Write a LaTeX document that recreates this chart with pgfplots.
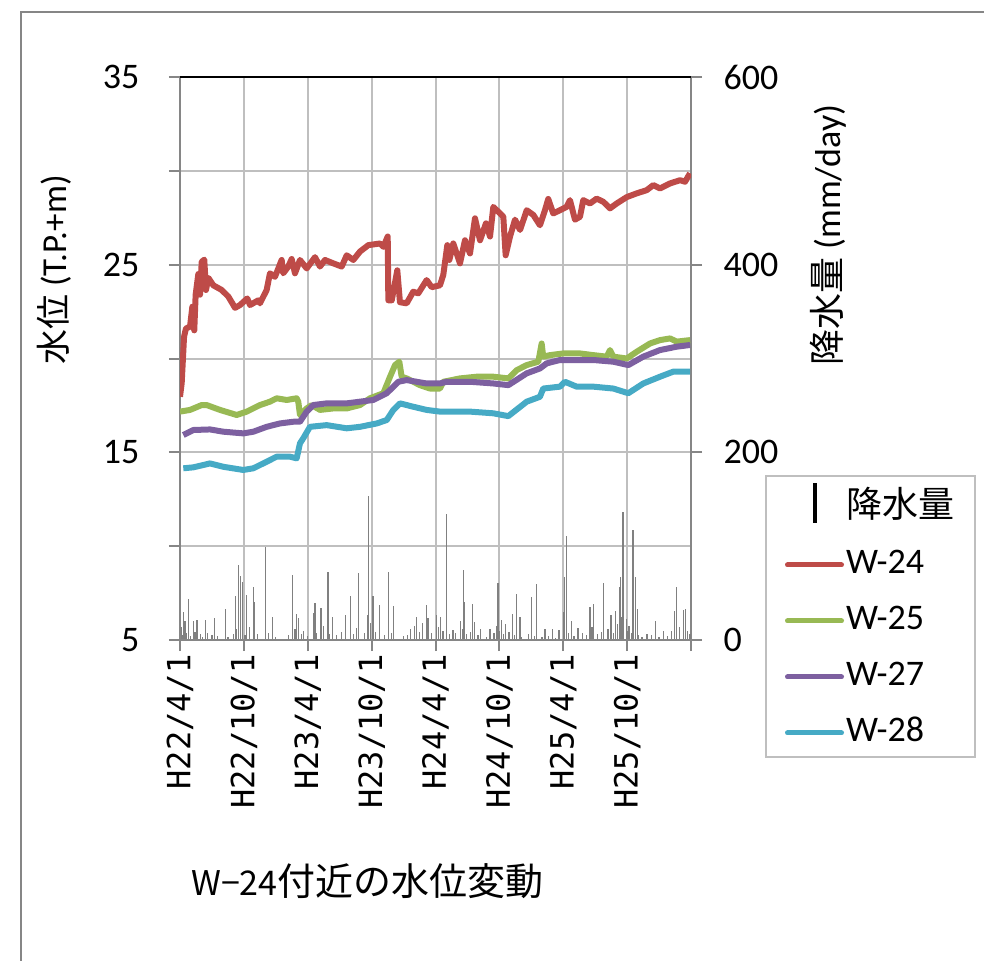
\documentclass[border=0pt]{standalone}
\usepackage{fontspec}
\setmainfont{Carlito}
\newfontfamily\cjk{Noto Sans CJK JP}
\newfontfamily\mono{DejaVu Sans Mono}
\usepackage{pgfplots}
\pgfplotsset{compat=1.18}

\definecolor{w24}{HTML}{BE4B48}
\definecolor{w25}{HTML}{98B954}
\definecolor{w27}{HTML}{7D60A0}
\definecolor{w28}{HTML}{46AAC5}
\definecolor{axgray}{HTML}{868686}
\definecolor{gridgray}{HTML}{BFBFBF}
\definecolor{bargray}{HTML}{808080}

\begin{document}
\begin{tikzpicture}
\useasboundingbox (0pt,0pt) rectangle (984pt,-960pt);
% outer chart frame
\draw[axgray, line width=2.5pt] (21pt,-970pt) -- (21pt,-12pt) -- (995pt,-12pt);

% precipitation, right axis (also carries the grid)
\begin{axis}[
    at={(180pt,-640pt)}, anchor=south west,
    scale only axis, width=511pt, height=563pt,
    xmin=0, xmax=48, ymin=0, ymax=600,
    axis x line*=bottom, axis y line*=right,
    axis line style={axgray, line width=2pt},
    xtick={0,6,...,48}, xticklabels={}, xtick style={draw=none},
    ytick={0,200,400,600}, yticklabels={0,200,400,600},
    minor ytick={100,300,500},
    grid=both, grid style={gridgray, line width=2pt},
    minor grid style={gridgray, line width=2pt},
    tick align=outside, major tick length=11pt, minor tick length=0pt,
    ytick style={axgray, line width=2pt},
    /pgf/number format/assume math mode=true,
    yticklabel style={font=\fontsize{36}{40}\selectfont, xshift=18pt},
]
\addplot[ycomb, draw=bargray, line width=1.2pt, mark=none] coordinates {
(0.09,14) (0.32,30) (0.47,20) (0.81,44) (1.26,20) (1.60,21) (2.40,21) (3.24,23)
(4.27,33) (5.21,47) (5.48,80) (5.66,68) (5.86,62) (6.26,48) (6.93,56) (7.00,41)
(8.03,99) (8.68,24) (10.60,69) (10.95,28) (11.14,23) (11.59,10) (12.53,29) (12.68,39)
(13.24,34) (13.90,73) (14.31,24) (15.58,27) (16.03,47) (16.78,71) (17.62,27) (17.69,153)
(18.13,47) (18.72,37) (19.59,72) (20.08,36) (21.67,12) (22.19,25) (23.13,37) (23.29,23)
(24.10,27) (24.49,25) (25.04,134) (25.07,38) (25.64,11) (26.33,20) (26.66,75) (26.72,41)
(27.47,38) (27.69,19) (28.24,12) (29.12,12) (29.87,61) (30.22,21) (30.61,17) (31.26,28)
(31.64,49) (31.94,25) (33.04,46) (33.52,60) (34.28,12) (35.02,12) (35.60,11) (36.12,67)
(36.28,111) (36.76,20) (37.38,13) (38.51,35) (38.87,38) (39.81,61) (40.48,27) (40.94,31)
(41.26,56) (41.36,67) (41.62,136) (41.91,22) (42.17,15) (42.55,117) (42.58,71) (42.76,67)
(42.94,33) (43.87,6) (44.70,20) (45.41,10) (46.45,31) (46.61,56) (47.28,32) (47.52,33)
(0.2,5) (0.6,8) (1.0,4) (1.4,9) (1.9,6) (2.1,3) (2.6,7) (3.0,5) (3.5,4) (4.5,3)
(5.0,6) (5.3,12) (5.7,9) (6.1,5) (6.5,14) (7.3,6) (8.3,8) (9.0,3) (10.2,5) (10.8,12)
(11.4,6) (12.0,4) (12.8,8) (13.5,15) (14.0,6) (14.7,5) (15.2,9) (16.3,6) (16.6,13) (17.3,8)
(17.9,18) (18.4,9) (19.2,5) (19.9,7) (21.0,4) (21.4,5) (22.0,15) (22.5,9) (22.8,18) (23.6,8)
(24.3,14) (24.7,10) (25.3,6) (25.9,8) (26.5,12) (26.9,6) (27.3,9) (28.0,5) (28.8,3) (29.5,8)
(29.7,15) (30.0,10) (30.4,6) (30.9,9) (31.4,5) (32.1,3) (32.7,6) (33.3,4) (34.0,3) (34.6,4)
(35.3,2) (36.0,30) (36.5,8) (37.0,4) (37.8,7) (38.2,5) (38.7,14) (39.2,6) (39.6,9) (40.2,12)
(40.7,8) (41.1,17) (41.5,25) (42.0,10) (42.4,8) (43.1,5) (43.4,3) (44.3,5) (45.0,3) (45.8,4)
(46.2,10) (46.9,14) (47.7,10) (47.9,6)
};
\end{axis}

% water levels, left axis
\begin{axis}[
    at={(180pt,-640pt)}, anchor=south west,
    scale only axis, width=511pt, height=563pt,
    xmin=0, xmax=48, ymin=5, ymax=35,
    axis x line*=bottom, axis y line*=left,
    axis line style={axgray, line width=2pt},
    xtick={0,6,...,48},
    xticklabels={H22/4/1,H22/10/1,H23/4/1,H23/10/1,H24/4/1,H24/10/1,H25/4/1,H25/10/1,},
    ytick={5,10,...,35}, yticklabels={5,,15,,25,,35},
    tick align=outside, major tick length=11pt,
    tick style={axgray, line width=2pt},
    /pgf/number format/assume math mode=true,
    yticklabel style={font=\fontsize{36}{40}\selectfont, xshift=-26pt},
    xticklabel style={font=\mono\fontsize{32}{36}\selectfont, rotate=90, anchor=east},
    legend image code/.code={\draw[#1, line width=5pt, line cap=round] (0pt,0pt) -- (54pt,0pt);},
    legend style={at={(1.1448,0.2931)}, anchor=north west,
        draw=gridgray, line width=2pt, inner xsep=19pt, inner ysep=5pt,
        row sep=18pt, font=\fontsize{36}{40}\selectfont,
        nodes={inner sep=2pt, text height=26pt, text depth=8pt}},
    legend cell align=left,
]
\addlegendimage{legend image code/.code={\draw[black, line width=4pt] (27pt,-14pt) -- (27pt,26pt);}}
\addlegendentry{\cjk 降水量}

\addplot[w24, line width=6pt, line join=round, mark=none] coordinates {
(0,17.96) (0.16,18.7) (0.38,21.16) (0.56,21.6) (0.94,21.7) (1.16,22.76) (1.34,21.5) (1.47,23.4)
(1.72,24.5) (1.88,23.4) (2.04,25.15) (2.28,25.27) (2.44,23.65) (2.66,24.3) (3.13,23.9) (3.92,23.65)
(4.54,23.3) (5.17,22.7) (5.64,22.85) (6.32,23.2) (6.58,22.85) (7.35,23.1) (7.51,22.94) (8.14,23.65)
(8.45,24.54) (8.92,24.35) (9.55,25.25) (9.70,24.54) (10.17,24.9) (10.49,25.3) (10.80,24.54) (11.27,25.25)
(11.90,24.8) (12.68,25.4) (13.15,24.9) (13.62,25.25) (14.40,25.07) (15.19,24.9) (15.66,25.5) (16.28,25.25)
(16.91,25.7) (17.69,26.04) (18.79,26.13) (19.10,25.95) (19.51,26.5) (19.57,23.1) (19.89,23.1) (20.41,24.7)
(20.66,23.0) (21.29,22.94) (21.91,23.56) (22.38,23.47) (23.17,24.18) (23.64,23.8) (24.42,23.9) (24.73,24.45)
(25.11,26.04) (25.30,25.25) (25.67,26.13) (26.30,25.07) (26.77,26.3) (27.24,25.6) (27.71,27.47) (28.18,26.3)
(28.74,27.2) (29.12,26.5) (29.43,28.08) (30.06,27.73) (30.37,27.55) (30.59,25.5) (31.00,26.5) (31.47,27.4)
(31.94,26.85) (32.57,27.9) (33.19,27.65) (33.81,27.1) (34.28,27.9) (34.59,28.5) (35.06,27.73) (35.69,27.9)
(36.32,28.08) (36.63,28.44) (37.10,27.4) (37.57,27.55) (37.88,28.44) (38.51,28.26) (39.14,28.52) (39.76,28.35)
(40.39,28.0) (41.02,28.26) (41.96,28.6) (42.90,28.8) (43.84,28.97) (44.46,29.24) (45.09,29.06) (46.03,29.33)
(46.97,29.5) (47.44,29.42) (47.91,29.87)
};
\addlegendentry{W-24}

\addplot[w25, line width=6pt, line join=round, mark=none] coordinates {
(0,17.17) (0.94,17.26) (2.04,17.52) (2.50,17.52) (3.76,17.26) (5.33,16.99) (6.27,17.17) (7.51,17.52)
(8.45,17.7) (9.08,17.88) (10.02,17.79) (10.96,17.88) (11.11,17.7) (11.27,16.99) (11.90,17.34) (12.37,17.52)
(13.15,17.26) (14.40,17.34) (15.66,17.34) (16.91,17.52) (17.85,17.88) (19.10,18.15) (19.73,19.03) (20.20,19.65)
(20.60,19.83) (20.82,19.03) (21.29,18.94) (22.54,18.58) (23.48,18.4) (24.42,18.4) (24.73,18.76) (26.30,18.94)
(27.87,19.03) (29.43,19.03) (30.84,18.94) (31.63,19.38) (32.57,19.65) (33.66,19.83) (33.97,20.8) (34.12,20.1)
(34.75,20.18) (36.00,20.27) (37.57,20.27) (38.82,20.18) (40.08,20.1) (40.39,20.45) (40.70,20.1) (41.96,20.0)
(42.90,20.36) (44.15,20.8) (45.09,20.98) (46.03,21.07) (46.66,20.9) (47.91,20.98)
};
\addlegendentry{W-25}

\addplot[w27, line width=6pt, line join=round, mark=none] coordinates {
(0.31,15.92) (1.25,16.19) (2.82,16.22) (4.07,16.1) (5.95,16.01) (6.89,16.1) (8.14,16.36) (9.39,16.54)
(10.64,16.63) (11.27,16.63) (11.90,17.17) (12.52,17.52) (13.78,17.61) (15.66,17.61) (16.91,17.7) (18.16,17.79)
(19.42,18.15) (20.51,18.76) (21.29,18.85) (23.17,18.67) (24.42,18.67) (25.05,18.76) (27.24,18.76) (29.43,18.67)
(30.84,18.58) (32.57,19.21) (33.81,19.47) (34.44,19.74) (35.69,19.92) (37.26,19.92) (38.82,19.92) (40.70,19.83)
(42.11,19.65) (43.52,20.1) (45.09,20.45) (46.66,20.63) (47.91,20.72)
};
\addlegendentry{W-27}

\addplot[w28, line width=6pt, line join=round, mark=none] coordinates {
(0.31,14.15) (1.25,14.2) (2.82,14.41) (4.07,14.23) (5.95,14.06) (6.89,14.15) (8.14,14.5) (9.08,14.77)
(10.33,14.77) (10.96,14.68) (11.27,15.48) (11.58,15.75) (12.21,16.36) (13.78,16.45) (15.66,16.28) (16.91,16.36)
(18.48,16.54) (19.42,16.72) (20.04,17.26) (20.66,17.61) (21.91,17.43) (23.17,17.26) (24.42,17.17) (25.05,17.17)
(27.24,17.17) (29.43,17.08) (30.84,16.93) (32.57,17.7) (33.81,17.96) (34.12,18.4) (35.69,18.5) (36.16,18.76)
(37.26,18.5) (38.82,18.5) (40.70,18.4) (42.11,18.15) (43.52,18.67) (45.09,19.03) (46.34,19.3) (47.91,19.3)
};
\addlegendentry{W-28}
\end{axis}

\draw[black, line width=2pt] (180pt,-77pt) -- (691pt,-77pt);

\node[rotate=90, font=\fontsize{35}{40}\selectfont] at (54pt,-270pt) {{\cjk 水位} (T.P.+m)};
\node[rotate=90, font=\fontsize{36}{40}\selectfont] at (828pt,-235pt) {{\cjk 降水量} (mm/day)};
\node[anchor=base west, inner sep=0pt] at (191pt,-895pt)
    {{\cjk\fontsize{34}{40}\selectfont W−24}{\cjk\fontsize{38}{44}\selectfont 付近の水位変動}};
\end{tikzpicture}
\end{document}
